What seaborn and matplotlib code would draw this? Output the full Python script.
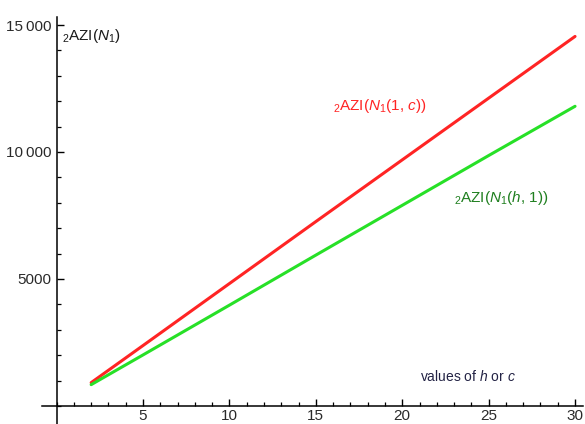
import matplotlib
matplotlib.use("Agg")
import matplotlib.pyplot as plt
import seaborn as sns
import pandas as pd
from matplotlib.ticker import MultipleLocator, FixedLocator

# values of h or c
x_vals = [2, 5, 10, 15, 20, 25, 30]
# 2AZI(N1(1, c))
red_vals = [920, 2380, 4820, 7260, 9690, 12120, 14550]
# 2AZI(N1(h, 1))
green_vals = [840, 2010, 3970, 5940, 7900, 9860, 11800]

x_ticks = [5, 10, 15, 20, 25, 30]
y_ticks = [5000, 10000, 15000]
y_tick_labels = ["5000", "10\u2009000", "15\u2009000"]

sns.set_style("white")
plt.rcParams["font.family"] = ["Liberation Sans", "DejaVu Sans"]
plt.rcParams["mathtext.fontset"] = "custom"
plt.rcParams["mathtext.rm"] = "Liberation Sans"
plt.rcParams["mathtext.it"] = "Liberation Sans:italic"

df = pd.DataFrame({
    "x": x_vals + x_vals,
    "y": red_vals + green_vals,
    "series": ["red"] * len(x_vals) + ["green"] * len(x_vals),
})

fig = plt.figure(figsize=(5.85, 4.24), dpi=100)
ax = fig.add_axes([42 / 585, 0.0, 541 / 585, 407 / 424])

sns.lineplot(data=df, x="x", y="y", hue="series",
             palette={"red": "#ff2424", "green": "#27e027"},
             linewidth=2.2, legend=False, ax=ax)

ax.set_xlim(-0.845, 30.46)
ax.set_ylim(-709, 15315)

for side in ("top", "right"):
    ax.spines[side].set_visible(False)
ax.spines["left"].set_position(("data", 0))
ax.spines["bottom"].set_position(("data", 0))
for side in ("left", "bottom"):
    ax.spines[side].set_linewidth(1.1)
    ax.spines[side].set_color("black")

ax.xaxis.set_major_locator(FixedLocator(x_ticks))
ax.xaxis.set_minor_locator(MultipleLocator(1))
ax.yaxis.set_major_locator(FixedLocator(y_ticks))
ax.yaxis.set_minor_locator(MultipleLocator(1000))
ax.set_yticklabels(y_tick_labels)

ax.tick_params(which="major", direction="in", length=5, width=1.0,
               labelsize=11, colors="black", labelcolor="#2a2a2a")
ax.tick_params(which="minor", direction="in", length=3, width=0.9, colors="black")
ax.tick_params(axis="x", pad=2)
ax.tick_params(axis="y", pad=4)
ax.tick_params(bottom=True, left=True, which="both")

ax.set_xlabel("")
ax.set_ylabel("")

ax.text(0.3, 14550, r"${}_2$AZI($\mathit{N}_1$)", fontsize=11,
        color="#1a1a1a", ha="left", va="center")
ax.text(16.0, 11800, r"${}_2$AZI($\mathit{N}_1$(1, $\mathit{c}$))", fontsize=11,
        color="#ff2424", ha="left", va="center")
ax.text(23.0, 8200, r"${}_2$AZI($\mathit{N}_1$($\mathit{h}$, 1))", fontsize=11,
        color="#1f7f1f", ha="left", va="center")
ax.text(21.0, 1150, r"values of $\mathit{h}$ or $\mathit{c}$", fontsize=10,
        color="#222244", ha="left", va="center")

fig.savefig("out.png", dpi=100)
